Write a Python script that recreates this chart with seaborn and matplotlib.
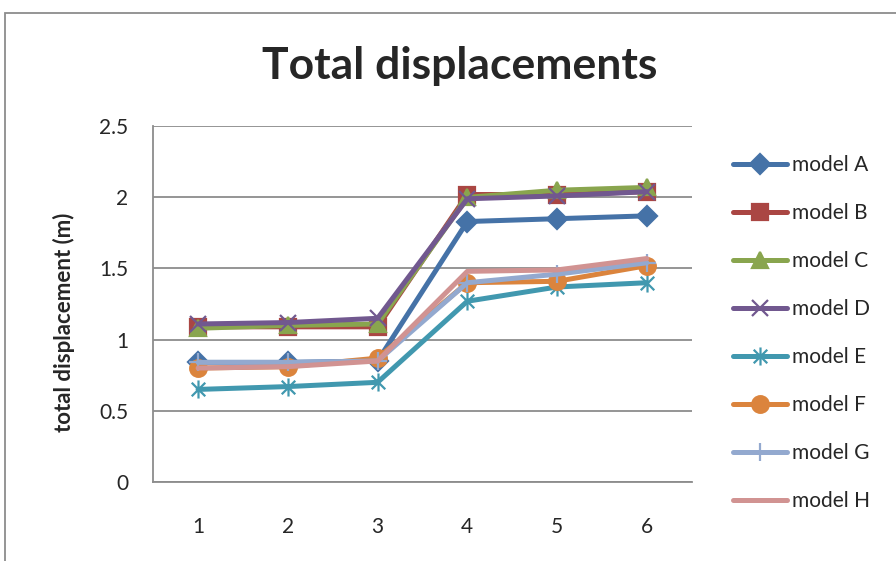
import matplotlib
matplotlib.use('Agg')
import matplotlib.pyplot as plt
import seaborn as sns
import pandas as pd
from matplotlib.patches import Rectangle
from matplotlib.path import Path

# values
steps = [1, 2, 3, 4, 5, 6]
models = ['model A', 'model B', 'model C', 'model D',
          'model E', 'model F', 'model G', 'model H']
model_a = [0.84, 0.84, 0.85, 1.83, 1.85, 1.87]
model_b = [1.09, 1.09, 1.09, 2.02, 2.02, 2.04]
model_c = [1.08, 1.10, 1.11, 2.00, 2.05, 2.07]
model_d = [1.11, 1.12, 1.15, 1.99, 2.01, 2.04]
model_e = [0.65, 0.67, 0.70, 1.27, 1.37, 1.40]
model_f = [0.80, 0.81, 0.87, 1.40, 1.41, 1.52]
model_g = [0.84, 0.84, 0.85, 1.40, 1.46, 1.54]
model_h = [0.80, 0.81, 0.85, 1.48, 1.49, 1.57]
series = [model_a, model_b, model_c, model_d, model_e, model_f, model_g, model_h]

# excel style asterisk: an x with a vertical bar
star = Path([(0, -1), (0, 1), (-0.75, -0.75), (0.75, 0.75), (-0.75, 0.75), (0.75, -0.75)],
            [Path.MOVETO, Path.LINETO, Path.MOVETO, Path.LINETO, Path.MOVETO, Path.LINETO])

colors = ['#4572A7', '#AA4643', '#89A54E', '#71588F',
          '#4198AF', '#DB843D', '#93A9CF', '#D19392']
markers = ['D', 's', '^', 'x', star, 'o', '+', None]
msizes = [10, 12, 11, 12, 13, 12, 13, 0]

df = pd.DataFrame({
    'step': steps * len(models),
    'disp': [v for s in series for v in s],
    'model': [m for m in models for _ in steps],
})

sns.set_style('white')
plt.rcParams['font.family'] = ['Lato', 'DejaVu Sans']

fig = plt.figure(figsize=(8.96, 5.61), dpi=100)
ax = fig.add_axes([0.171, 0.141, 0.601, 0.634])

for m, c, mk, ms in zip(models, colors, markers, msizes):
    sub = df[df['model'] == m]
    sns.lineplot(data=sub, x='step', y='disp', ax=ax, color=c, linewidth=3.6,
                 marker=mk, markersize=ms, markeredgecolor=c,
                 markeredgewidth=1.6, label=m)

ax.set_xlim(0.5, 6.5)
ax.set_ylim(0, 2.5)
ax.set_xticks(steps)
ax.set_yticks([0, 0.5, 1, 1.5, 2, 2.5])
ax.set_yticklabels(['0', '0.5', '1', '1.5', '2', '2.5'])
ax.tick_params(axis='y', labelsize=15, length=0, pad=18)
ax.tick_params(axis='x', labelsize=15, length=0, pad=25)
ax.yaxis.grid(True, color='#8c8c8c', linewidth=1.3)
for side in ['top', 'right']:
    ax.spines[side].set_visible(False)
for side in ['left', 'bottom']:
    ax.spines[side].set_color('#8c8c8c')
    ax.spines[side].set_linewidth(1.3)
ax.set_xlabel('')
ax.set_ylabel('total displacement (m)', fontsize=16, fontweight='bold')
ax.yaxis.set_label_coords(-0.146, 0.45)

fig.text(0.513, 0.882, 'Total displacements', ha='center', va='center',
         fontsize=32, fontweight='bold')

ax.legend(loc='upper left', bbox_to_anchor=(1.076, 0.918), frameon=False,
          fontsize=15, handlelength=2.6, handletextpad=0.25, labelspacing=1.34,
          borderaxespad=0, borderpad=0)

fig.patches.append(Rectangle((0.006, -0.1), 1.2, 1.077, transform=fig.transFigure,
                             fill=False, edgecolor='#8c8c8c', linewidth=1.3))

fig.savefig('out.png', dpi=100)
